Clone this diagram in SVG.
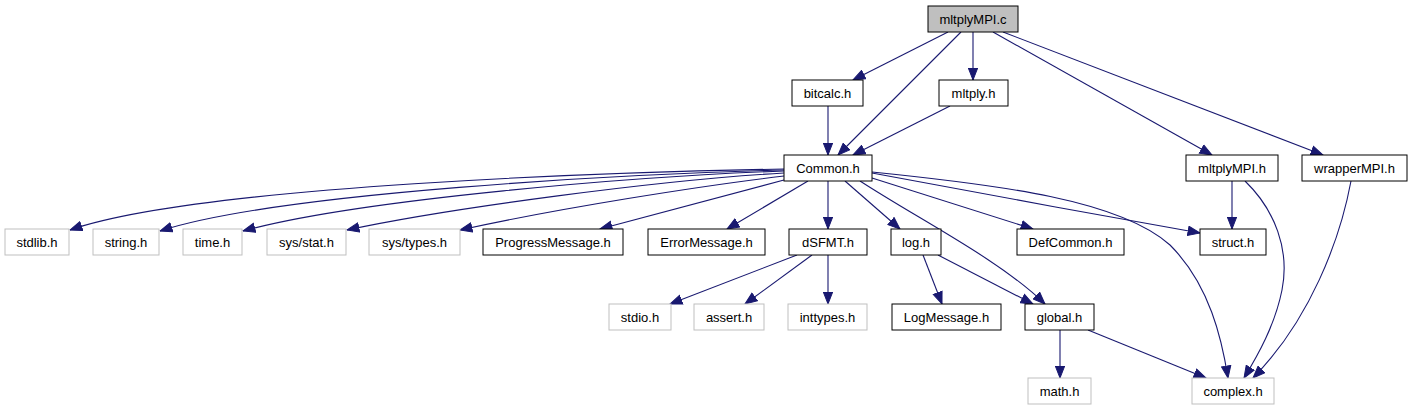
<svg xmlns="http://www.w3.org/2000/svg" width="1413" height="411" viewBox="0 0 1413 411">
<style>
.n rect{fill:#ffffff;stroke:#000000;stroke-width:1}
.g rect{fill:#ffffff;stroke:#bfbfbf;stroke-width:1}
.root rect{fill:#bfbfbf;stroke:#000000;stroke-width:1}
text{font-family:"Liberation Sans",Arial,sans-serif;font-size:13px;fill:#000000;text-anchor:middle}
.e path{fill:none;stroke:#191970;stroke-width:1.1;marker-end:url(#ah)}
</style>
<defs>
<marker id="ah" markerUnits="userSpaceOnUse" markerWidth="13" markerHeight="11" viewBox="0 0 13 11" refX="12.5" refY="5.5" orient="auto">
<polygon points="0.5,0.8 12.5,5.5 0.5,10.2" fill="#191970" stroke="#191970" stroke-width="1"/>
</marker>
</defs>
<rect x="0" y="0" width="1413" height="411" fill="#ffffff"/>
<g id="edges" class="e">
<path d="M948,32 L853,80"/>
<path d="M961,32 L838,155"/>
<path d="M973,32 L973,80"/>
<path d="M993,32 L1212,155"/>
<path d="M1003,32 L1323,155"/>
<path d="M828,106 L828,155"/>
<path d="M950,106 L853,155"/>
<path d="M784,169 C620,172 200,185 70,230"/>
<path d="M784,170 C630,174 280,192 160,231"/>
<path d="M784,171 C640,176 360,199 243,231"/>
<path d="M784,173 C660,180 450,208 347,230"/>
<path d="M784,176 C700,186 560,208 460,230"/>
<path d="M784,180 L600,229"/>
<path d="M808,181 L727,229"/>
<path d="M828,181 L828,229"/>
<path d="M845,181 L900,229"/>
<path d="M860,181 C920,220 1000,260 1045,304"/>
<path d="M872,178 L1033,229"/>
<path d="M872,173 C960,190 1100,215 1200,233"/>
<path d="M872,172 C1000,185 1120,200 1170,245 C1210,285 1222,340 1228,378"/>
<path d="M1060,330 L1060,378"/>
<path d="M1088,330 L1206,378"/>
<path d="M1232,181 L1232,229"/>
<path d="M1245,181 C1275,210 1290,250 1282,290 C1275,325 1258,355 1244,378"/>
<path d="M1351,181 C1340,240 1310,320 1253,378"/>
<path d="M923,255 L942,304"/>
<path d="M938,255 L1033,304"/>
<path d="M797,255 L670,304"/>
<path d="M812,255 L745,304"/>
<path d="M828,255 L828,304"/>
</g>
<g id="node-mltplyMPI_c" class="root"><rect x="928" y="6" width="90" height="26"/><text x="973" y="23.5">mltplyMPI.c</text></g>
<g id="node-bitcalc_h" class="n"><rect x="792" y="80" width="71" height="26"/><text x="827.5" y="97.5">bitcalc.h</text></g>
<g id="node-mltply_h" class="n"><rect x="939" y="80" width="69" height="26"/><text x="973.5" y="97.5">mltply.h</text></g>
<g id="node-Common_h" class="n"><rect x="784" y="155" width="88" height="26"/><text x="828" y="172.5">Common.h</text></g>
<g id="node-mltplyMPI_h" class="n"><rect x="1186" y="155" width="92" height="26"/><text x="1232" y="172.5">mltplyMPI.h</text></g>
<g id="node-wrapperMPI_h" class="n"><rect x="1302" y="155" width="105" height="26"/><text x="1354.5" y="172.5">wrapperMPI.h</text></g>
<g id="node-stdlib_h" class="g"><rect x="5" y="229" width="64" height="26"/><text x="37" y="246.5">stdlib.h</text></g>
<g id="node-string_h" class="g"><rect x="93" y="229" width="66" height="26"/><text x="126" y="246.5">string.h</text></g>
<g id="node-time_h" class="g"><rect x="183" y="229" width="59" height="26"/><text x="212.5" y="246.5">time.h</text></g>
<g id="node-sys_stat_h" class="g"><rect x="267" y="229" width="79" height="26"/><text x="306.5" y="246.5">sys/stat.h</text></g>
<g id="node-sys_types_h" class="g"><rect x="369" y="229" width="91" height="26"/><text x="414.5" y="246.5">sys/types.h</text></g>
<g id="node-ProgressMessage_h" class="n"><rect x="483" y="229" width="140" height="26"/><text x="553" y="246.5">ProgressMessage.h</text></g>
<g id="node-ErrorMessage_h" class="n"><rect x="648" y="229" width="117" height="26"/><text x="706.5" y="246.5">ErrorMessage.h</text></g>
<g id="node-dSFMT_h" class="n"><rect x="789" y="229" width="78" height="26"/><text x="828" y="246.5">dSFMT.h</text></g>
<g id="node-log_h" class="n"><rect x="891" y="229" width="50" height="26"/><text x="916" y="246.5">log.h</text></g>
<g id="node-DefCommon_h" class="n"><rect x="1017" y="229" width="107" height="26"/><text x="1070.5" y="246.5">DefCommon.h</text></g>
<g id="node-struct_h" class="n"><rect x="1200" y="229" width="66" height="26"/><text x="1233" y="246.5">struct.h</text></g>
<g id="node-stdio_h" class="g"><rect x="609" y="304" width="62" height="26"/><text x="640" y="321.5">stdio.h</text></g>
<g id="node-assert_h" class="g"><rect x="694" y="304" width="70" height="26"/><text x="729" y="321.5">assert.h</text></g>
<g id="node-inttypes_h" class="g"><rect x="788" y="304" width="79" height="26"/><text x="827.5" y="321.5">inttypes.h</text></g>
<g id="node-LogMessage_h" class="n"><rect x="892" y="304" width="109" height="26"/><text x="946.5" y="321.5">LogMessage.h</text></g>
<g id="node-global_h" class="n"><rect x="1025" y="304" width="69" height="26"/><text x="1059.5" y="321.5">global.h</text></g>
<g id="node-math_h" class="g"><rect x="1028" y="378" width="63" height="26"/><text x="1059.5" y="395.5">math.h</text></g>
<g id="node-complex_h" class="g"><rect x="1192" y="378" width="82" height="26"/><text x="1233" y="395.5">complex.h</text></g>
</svg>
